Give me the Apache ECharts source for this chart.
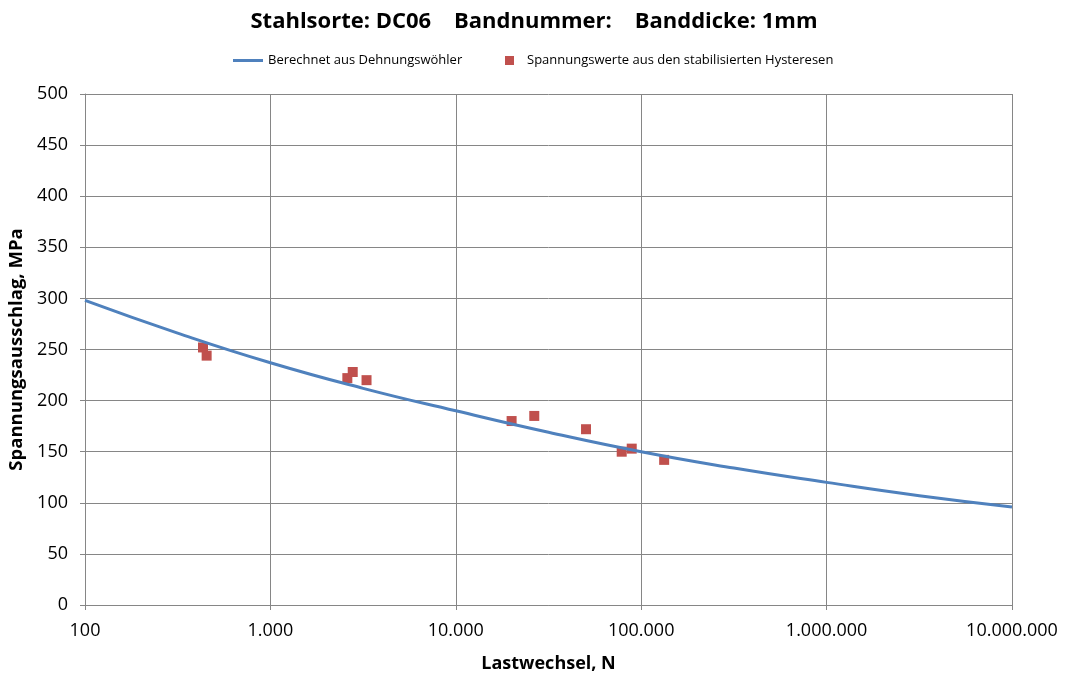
<!DOCTYPE html>
<html>
<head>
<meta charset="utf-8">
<script src="https://cdn.jsdelivr.net/npm/echarts@6/dist/echarts.min.js"></script>
<style>html,body{margin:0;padding:0;background:#fff}#c{width:1068px;height:677px}</style>
</head>
<body>
<div id="c"></div>
<script>
const titleText = 'Stahlsorte: DC06    Bandnummer:    Banddicke: 1mm';
const lineName = 'Berechnet aus Dehnungswöhler';
const pointName = 'Spannungswerte aus den stabilisierten Hysteresen';
const xAxisName = 'Lastwechsel, N';
const yAxisName = 'Spannungsausschlag, MPa';

// Calculated curve (half-decade steps)
const curveN = [100, 316, 1000, 3162, 10000, 31623, 100000, 316228, 1000000, 3162278, 10000000];
const curveS = [298, 266, 237, 212, 190, 169, 150, 134, 120, 107, 96];

// Measured points
const pointN = [433, 453, 2600, 2780, 3300, 20000, 26500, 50400, 78500, 88900, 133000];
const pointS = [252, 244, 222, 228, 220, 180, 185, 172, 150, 153, 142];

const font = 'Open Sans';
const chart = echarts.init(document.getElementById('c'));
function fmtDE(v){ return String(Math.round(v)).replace(/\B(?=(\d{3})+(?!\d))/g, '.'); }

chart.setOption({
  animation: false,
  title: {
    text: titleText, left: 'center', top: 6,
    textStyle: { fontFamily: font, fontSize: 22, fontWeight: 'bold', color: '#000' }
  },
  legend: [
    {
      top: 49, left: 228,
      textStyle: { fontFamily: font, fontSize: 13, color: '#000' },
      data: [{ name: lineName, icon: 'rect' }],
      itemWidth: 30, itemHeight: 3, itemGap: 4
    },
    {
      top: 49, left: 500,
      textStyle: { fontFamily: font, fontSize: 13, color: '#000', padding: [0,0,0,8] },
      data: [{ name: pointName, icon: 'rect' }],
      itemWidth: 9, itemHeight: 9
    }
  ],
  grid: { left: 85, right: 56, top: 94, bottom: 72, outerBoundsMode: 'none', containLabel: false },
  xAxis: {
    type: 'log', logBase: 10, min: 100, max: 10000000,
    name: xAxisName, nameLocation: 'middle', nameGap: 50,
    nameTextStyle: { fontFamily: font, fontSize: 18, fontWeight: 'bold', color: '#000' },
    axisLine: { lineStyle: { color: '#868686' } },
    axisTick: { show: true, length: 5, lineStyle: { color: '#868686' } },
    axisLabel: { fontFamily: font, fontSize: 18, color: '#000', margin: 17, formatter: fmtDE },
    splitLine: { show: true, lineStyle: { color: '#868686', width: 1 } },
    minorTick: { show: false }
  },
  yAxis: {
    type: 'value', min: 0, max: 500, interval: 50,
    name: yAxisName, nameLocation: 'middle', nameGap: 58, nameRotate: 90,
    nameTextStyle: { fontFamily: font, fontSize: 18.5, fontWeight: 'bold', color: '#000' },
    axisLine: { show: true, lineStyle: { color: '#868686' } },
    axisTick: { show: true, length: 5, lineStyle: { color: '#868686' } },
    axisLabel: { fontFamily: font, fontSize: 18, color: '#000', margin: 17 },
    splitLine: { show: true, lineStyle: { color: '#868686', width: 1 } }
  },
  series: [
    {
      name: lineName, type: 'line', smooth: true, showSymbol: false,
      lineStyle: { color: '#4F81BD', width: 3 }, itemStyle: { color: '#4F81BD' },
      data: curveN.map((n, i) => [n, curveS[i]])
    },
    {
      name: pointName, type: 'scatter', symbol: 'rect', symbolSize: 10,
      itemStyle: { color: '#C0504D', opacity: 1 },
      data: pointN.map((n, i) => [n, pointS[i]])
    }
  ]
});
</script>
</body>
</html>
